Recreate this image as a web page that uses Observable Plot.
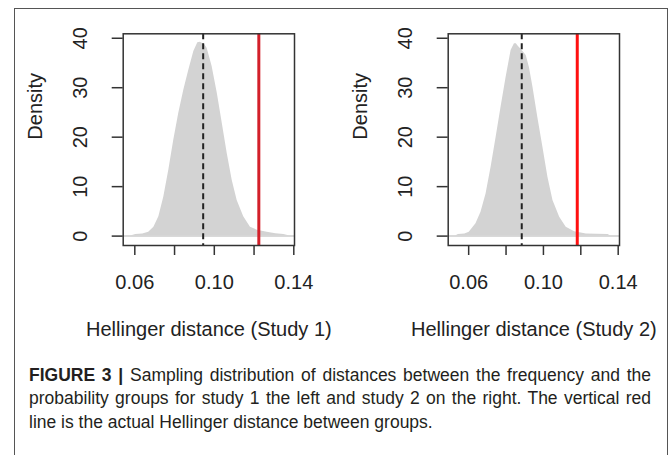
<!DOCTYPE html>
<html><head><meta charset="utf-8">
<script src="https://cdn.jsdelivr.net/npm/d3@7"></script>
<script src="https://cdn.jsdelivr.net/npm/@observablehq/plot@0.6"></script>
<style>
html,body{margin:0;padding:0;background:#fff;}
body{width:669px;height:455px;overflow:hidden;position:relative;font-family:"Liberation Sans",Arial,sans-serif;}
#border{position:absolute;left:14px;top:8px;width:654px;height:470px;border:1.3px solid #555;box-sizing:border-box;}
.panel{position:absolute;top:0;}
#caption{position:absolute;left:29px;top:363.5px;width:622px;font-size:17.5px;line-height:23.5px;color:#231f20;}
.line{white-space:nowrap;}
.just{text-align:justify;text-align-last:justify;}
.line span{display:inline-block;transform-origin:0 50%;}
</style></head><body>
<div id="border"></div>
<div id="p1" class="panel" style="left:0px"></div>
<div id="p2" class="panel" style="left:325px"></div>
<div id="caption">
<div class="line just"><b>FIGURE 3 |</b> Sampling distribution of distances between the frequency and the</div>
<div class="line just">probability groups for study 1 the left and study 2 on the right. The vertical red</div>
<div class="line">line is the actual Hellinger distance between groups.</div>
</div>
<script>
// ---- data ----
const study1X = [0.058, 0.0605, 0.064, 0.067, 0.0696, 0.0721, 0.0746, 0.0771, 0.0796, 0.0821, 0.0847, 0.0872, 0.0897, 0.0917, 0.093, 0.0939, 0.0952, 0.0964, 0.0989, 0.1015, 0.104, 0.1065, 0.109, 0.1115, 0.1148, 0.1182, 0.1216, 0.1266, 0.131, 0.135, 0.138];
const study1Density = [0, 0.3, 0.4, 0.8, 1.8, 3.9, 7.9, 13.3, 19.4, 24.8, 29.6, 33.6, 37.3, 39.1, 39.2, 39.0, 38.7, 38.0, 34.3, 28.9, 22.8, 16.7, 11.3, 7.2, 3.9, 1.8, 1.2, 0.8, 0.5, 0.3, 0];
const study2X = [0.053, 0.0545, 0.058, 0.0603, 0.0639, 0.0666, 0.0693, 0.072, 0.0747, 0.0773, 0.08, 0.0827, 0.0845, 0.0855, 0.0863, 0.0886, 0.0908, 0.0925, 0.0944, 0.097, 0.0997, 0.1024, 0.1051, 0.1087, 0.1122, 0.1167, 0.123, 0.1346, 0.136];
const study2Density = [0, 0.3, 0.4, 0.8, 2.5, 4.8, 8.5, 13.9, 20, 26, 32, 37.5, 38.9, 38.9, 38.5, 37.5, 36.5, 34.1, 30.1, 24, 18, 11.9, 7.2, 3.8, 1.8, 0.9, 0.4, 0.3, 0];
const observedDistance = [0.1224, 0.1181];
const meanDistance = [0.0944, 0.0884];
const xTicks = [0.06, 0.08, 0.10, 0.12, 0.14];
const xTickLabels = ["0.06", "", "0.10", "", "0.14"];
const yTicks = [0, 10, 20, 30, 40];
const xTitles = ["Hellinger distance (Study 1)", "Hellinger distance (Study 2)"];
const yTitle = "Density";

// ---- drawing ----
const panels = [
  {x: study1X, d: study1Density, xDomain: [0.05416, 0.14035], width: 335, red: "#d3202a"},
  {x: study2X, d: study2Density, xDomain: [0.04905, 0.1407], width: 340, red: "#ff1010"}
];

function drawPanel(i) {
  const p = panels[i];
  const rows = p.x.map((x, j) => ({x, d: p.d[j]}));
  return Plot.plot({
    width: p.width, height: 350,
    marginLeft: 122.7, marginRight: p.width - 294, marginTop: 33.3, marginBottom: 105,
    x: {domain: p.xDomain},
    y: {domain: [-1.9, 40.9]},
    style: {fontFamily: "'Liberation Sans', Arial, sans-serif", fontSize: "20px", color: "#222", background: "transparent", overflow: "visible"},
    marks: [
      Plot.ruleY([0], {stroke: "#cdcdcd", strokeWidth: 1.5}),
      Plot.areaY(rows, {x: "x", y: "d", fill: "#d3d3d3"}),
      Plot.ruleX([meanDistance[i]], {stroke: "#222", strokeWidth: 2, strokeDasharray: "6,4"}),
      Plot.ruleX([observedDistance[i]], {stroke: p.red, strokeWidth: 3}),
      Plot.frame({stroke: "#333", strokeWidth: 1.5}),
      Plot.axisX(xTicks, {anchor: "bottom", tickSize: 10, tickPadding: 19, stroke: "#333", strokeWidth: 1.5, tickFormat: d => xTickLabels[xTicks.indexOf(d)], label: null}),
      Plot.axisY(yTicks, {anchor: "left", tickSize: 11, tickPadding: 25, tickRotate: -90, stroke: "#333", strokeWidth: 1.5, label: null}),
      Plot.text([xTitles[i]], {frameAnchor: "bottom", lineAnchor: "bottom", dy: 90, text: d => d}),
      Plot.text([yTitle], {frameAnchor: "left", rotate: -90, lineAnchor: "bottom", dx: -81.7, text: d => d})
    ]
  });
}
document.getElementById("p1").appendChild(drawPanel(0));
document.getElementById("p2").appendChild(drawPanel(1));

// fit any caption line that is wider than the caption box
document.querySelectorAll("#caption .just").forEach(el => {
  const span = document.createElement("span");
  while (el.firstChild) span.appendChild(el.firstChild);
  el.appendChild(span);
  const w = span.getBoundingClientRect().width;
  if (w > 622) {
    span.style.transform = `scaleX(${622 / w})`;
  } else {
    // let justification spread the words
    while (span.firstChild) el.appendChild(span.firstChild);
    span.remove();
  }
});
</script>
</body></html>
